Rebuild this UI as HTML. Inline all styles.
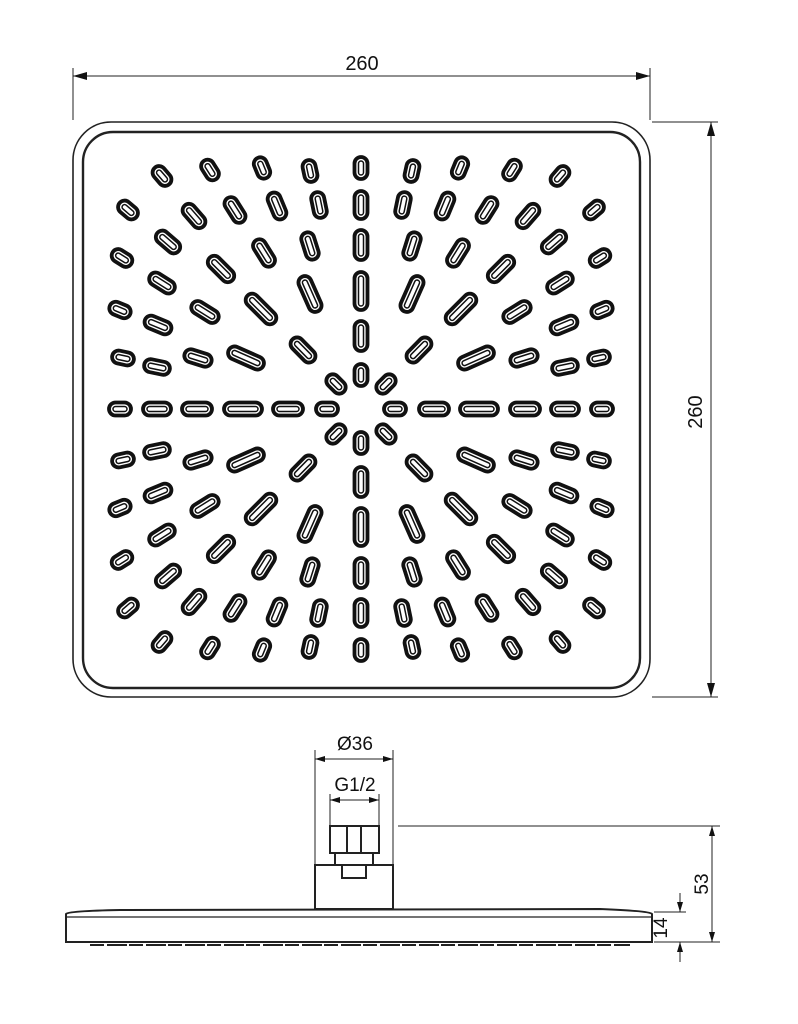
<!DOCTYPE html>
<html><head><meta charset="utf-8"><style>
html,body{margin:0;padding:0;background:#fff;}
svg{display:block;}
text{font-family:"Liberation Sans",sans-serif;fill:#111;}
</style></head><body>
<svg id="s" width="798" height="1024" viewBox="0 0 798 1024" xmlns="http://www.w3.org/2000/svg">
<defs>
<marker id="a" viewBox="0 0 10 6" refX="10" refY="3" markerWidth="10" markerHeight="6" orient="auto-start-reverse" markerUnits="userSpaceOnUse"><path d="M0,0 L10,3 L0,6 Z" fill="#111"/></marker>
<marker id="b" viewBox="0 0 14 8" refX="14" refY="4" markerWidth="14" markerHeight="8" orient="auto-start-reverse" markerUnits="userSpaceOnUse"><path d="M0,0 L14,4 L0,8 Z" fill="#111"/></marker>
</defs>
<g stroke="#222" fill="none">
<rect x="73" y="122" width="577" height="575" rx="38" stroke-width="1.6"/>
<rect x="83" y="132" width="557" height="556" rx="30" stroke-width="2.4"/>
<line x1="73" y1="68" x2="73" y2="120" stroke-width="1"/>
<line x1="650" y1="68" x2="650" y2="120" stroke-width="1"/>
<line x1="73" y1="76" x2="650" y2="76" stroke-width="1" marker-start="url(#b)" marker-end="url(#b)"/>
<line x1="652" y1="122" x2="718" y2="122" stroke-width="1"/>
<line x1="652" y1="697" x2="718" y2="697" stroke-width="1"/>
<line x1="711" y1="122" x2="711" y2="697" stroke-width="1" marker-start="url(#b)" marker-end="url(#b)"/>
<path d="M66,914 Q68,911 120,910 L600,909 Q650,911 652,914 L652,942 L66,942 Z" stroke-width="2"/>
<line x1="66" y1="917" x2="652" y2="917" stroke-width="1.2"/>
<line x1="90" y1="945" x2="630" y2="945" stroke-width="2" stroke-dasharray="14 3 20 2"/>
<rect x="315" y="865" width="78" height="44" stroke-width="2"/>
<rect x="342" y="865" width="24" height="13" stroke-width="2"/>
<rect x="335" y="853" width="38" height="12" stroke-width="2"/>
<rect x="330" y="826" width="49" height="27" stroke-width="2"/>
<line x1="347" y1="826" x2="347" y2="853" stroke-width="2"/>
<line x1="361" y1="826" x2="361" y2="853" stroke-width="2"/>
<line x1="315" y1="750" x2="315" y2="865" stroke-width="1"/>
<line x1="393" y1="750" x2="393" y2="865" stroke-width="1"/>
<line x1="315" y1="759" x2="393" y2="759" stroke-width="1" marker-start="url(#a)" marker-end="url(#a)"/>
<line x1="330" y1="794" x2="330" y2="826" stroke-width="1"/>
<line x1="379" y1="794" x2="379" y2="826" stroke-width="1"/>
<line x1="330" y1="800" x2="379" y2="800" stroke-width="1" marker-start="url(#a)" marker-end="url(#a)"/>
<line x1="398" y1="826" x2="720" y2="826" stroke-width="1"/>
<line x1="654" y1="912" x2="686" y2="912" stroke-width="1"/>
<line x1="654" y1="942" x2="720" y2="942" stroke-width="1"/>
<line x1="712" y1="826" x2="712" y2="942" stroke-width="1" marker-start="url(#a)" marker-end="url(#a)"/>
<line x1="680" y1="893" x2="680" y2="912" stroke-width="1" marker-end="url(#a)"/>
<line x1="680" y1="962" x2="680" y2="942" stroke-width="1" marker-end="url(#a)"/>
</g>
<g id="nz"></g>
<text x="362" y="70" font-size="20" text-anchor="middle">260</text>
<text transform="translate(702,412) rotate(-90)" font-size="20" text-anchor="middle">260</text>
<text x="355" y="750" font-size="19" text-anchor="middle">Ø36</text>
<text x="355" y="791" font-size="19" text-anchor="middle">G1/2</text>
<text transform="translate(708,884) rotate(-90)" font-size="19" text-anchor="middle">53</text>
<text transform="translate(667,928) rotate(-90)" font-size="19" text-anchor="middle">14</text>
</svg>
<script>
(function(){
var cx=361,cy=409;
var oct=[[-238,-51,22],[-204,-42,26],[-163,-51,28],[-115,-51,38],[-241,-99,22],[-203,-84,28],[-156,-97,30],[-239,-151,22],[-199,-126,28],[-193,-167,28],[-233,-199,22]];
var diag=[[-25,-25,22],[-58,-59,30],[-100,-100,38],[-140,-140,32]];
var axis=[[-241,0,22],[-204,0,28],[-164,0,30],[-118,0,38],[-73,0,30],[-34,0,22]];
var pts=[];
var sg=[[1,1],[1,-1],[-1,1],[-1,-1]];
oct.forEach(function(p){sg.forEach(function(s){pts.push([p[0]*s[0],p[1]*s[1],p[2]]);pts.push([p[1]*s[0],p[0]*s[1],p[2]]);});});
diag.forEach(function(p){sg.forEach(function(s){pts.push([p[0]*s[0],p[1]*s[1],p[2]]);});});
axis.forEach(function(p){pts.push([p[0],0,p[2]]);pts.push([-p[0],0,p[2]]);pts.push([0,p[0],p[2]]);pts.push([0,-p[0],p[2]]);});
var h='';
pts.forEach(function(p){
 var x=cx+p[0],y=cy+p[1],L=p[2],W=13;
 var ang=Math.atan2(p[1],p[0])*180/Math.PI;
 h+='<g transform="translate('+x.toFixed(1)+','+y.toFixed(1)+') rotate('+ang.toFixed(1)+')">'+
 '<rect x="'+(-L/2)+'" y="'+(-W/2)+'" width="'+L+'" height="'+W+'" rx="6.5" fill="none" stroke="#111" stroke-width="3.8"/>'+
 '<rect x="'+(-L/2+4)+'" y="-2.5" width="'+(L-8)+'" height="5" rx="2.5" fill="none" stroke="#111" stroke-width="1.5"/></g>';
});
document.getElementById('nz').innerHTML=h;
})();
</script>
</body></html>
